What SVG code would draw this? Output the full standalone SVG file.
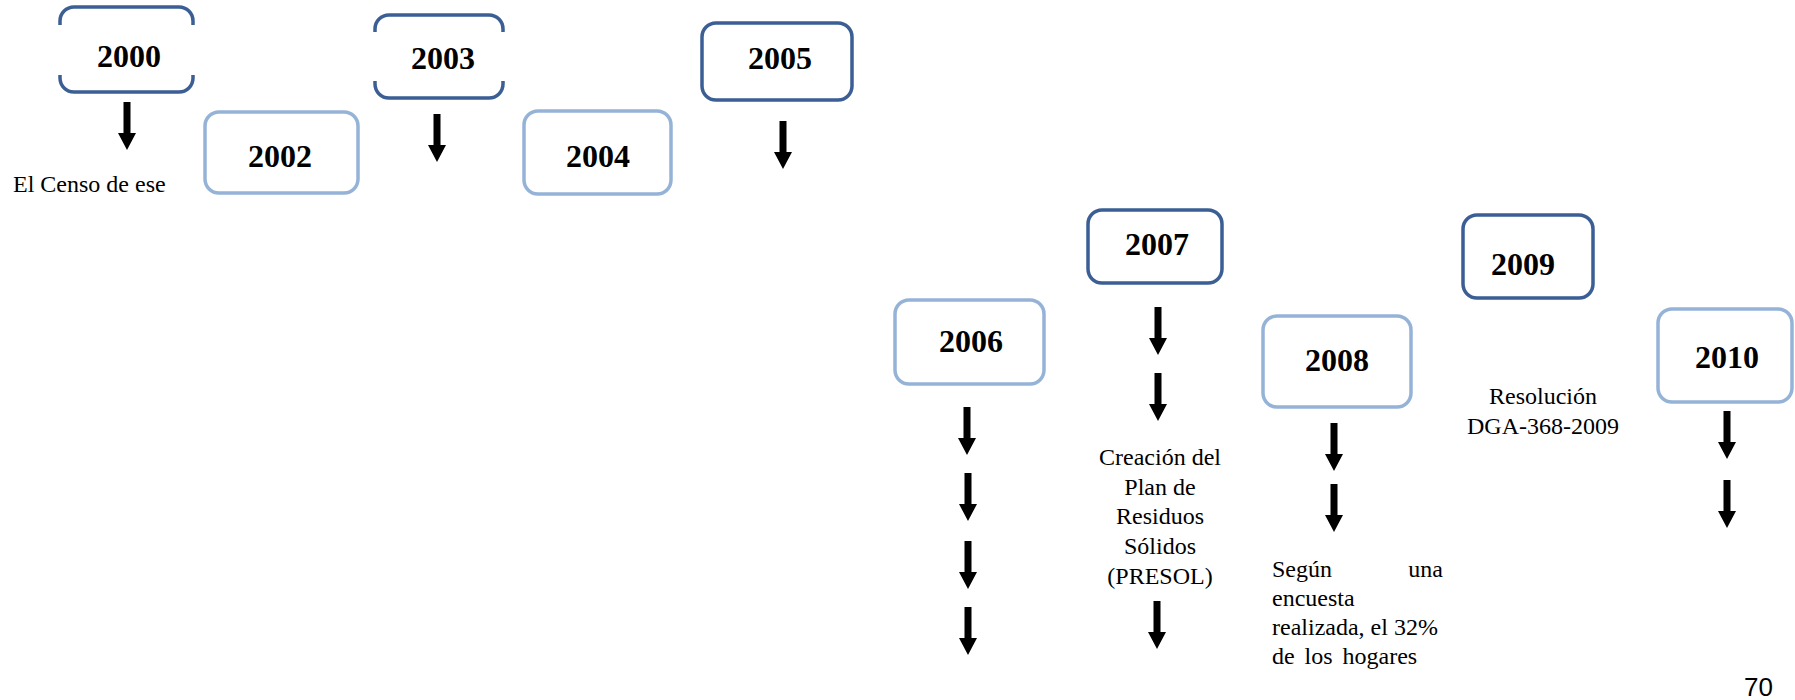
<svg xmlns="http://www.w3.org/2000/svg" xmlns:xlink="http://www.w3.org/1999/xlink" width="1795" height="700" viewBox="0 0 1795 700">
<style>
.dark{fill:none;stroke:#3B5F94;stroke-width:3.5}
.light{fill:none;stroke:#95B3D7;stroke-width:3.5}
.yr{font-family:"Liberation Serif","Times New Roman",serif;font-weight:bold;font-size:32px;fill:#000;text-anchor:middle}
.tx{font-family:"Liberation Serif","Times New Roman",serif;font-size:24px;fill:#000}
.mid{text-anchor:middle}
.pg{font-family:"Liberation Sans",Arial,sans-serif;font-size:26px;fill:#000}
</style>
<defs>
<path id="arr" d="M-3.5,0 H3.5 V31 H9 L0,48 L-9,31 H-3.5 Z" fill="#000"/>
</defs>
<rect width="1795" height="700" fill="#fff"/>

<g id="n2000">
<path class="dark" d="M60,25 V21 A14,14 0 0 1 74,7 H179 A14,14 0 0 1 193,21 V25"/>
<path class="dark" d="M60,75 V78 A14,14 0 0 0 74,92 H179 A14,14 0 0 0 193,78 V75"/>
<text class="yr" x="129" y="67">2000</text>
</g>
<g id="t2000"><text class="tx" x="13" y="192">El Censo de ese</text></g>

<g id="n2002">
<rect class="light" x="205" y="112" width="153" height="81" rx="14"/>
<text class="yr" x="280" y="167">2002</text>
</g>

<g id="n2003">
<path class="dark" d="M375,32 V29 A14,14 0 0 1 389,15 H489 A14,14 0 0 1 503,29 V32"/>
<path class="dark" d="M375,81 V84 A14,14 0 0 0 389,98 H489 A14,14 0 0 0 503,84 V81"/>
<text class="yr" x="443" y="69">2003</text>
</g>

<g id="n2004">
<rect class="light" x="524" y="111" width="147" height="83" rx="14"/>
<text class="yr" x="598" y="167">2004</text>
</g>

<g id="n2005">
<rect class="dark" x="702" y="23" width="150" height="77" rx="14"/>
<text class="yr" x="780" y="69">2005</text>
</g>

<g id="n2006">
<rect class="light" x="895" y="300" width="149" height="84" rx="14"/>
<text class="yr" x="971" y="352">2006</text>
</g>

<g id="n2007">
<rect class="dark" x="1088" y="210" width="134" height="73" rx="14"/>
<text class="yr" x="1157" y="255">2007</text>
</g>
<g id="t2007">
<text class="tx mid" x="1160" y="465">Creación del</text>
<text class="tx mid" x="1160" y="495">Plan de</text>
<text class="tx mid" x="1160" y="524">Residuos</text>
<text class="tx mid" x="1160" y="554">Sólidos</text>
<text class="tx mid" x="1160" y="584">(PRESOL)</text>
</g>

<g id="n2008">
<rect class="light" x="1263" y="316" width="148" height="91" rx="14"/>
<text class="yr" x="1337" y="371">2008</text>
</g>
<g id="t2008">
<text class="tx" x="1272" y="577">Según</text>
<text class="tx" x="1443" y="577" text-anchor="end">una</text>
<text class="tx" x="1272" y="606">encuesta</text>
<text class="tx" x="1272" y="635">realizada, el 32%</text>
<text class="tx" y="664"><tspan x="1272">de</tspan><tspan x="1304.5">los</tspan><tspan x="1342.5">hogares</tspan></text>
</g>

<g id="n2009">
<rect class="dark" x="1463" y="215" width="130" height="83" rx="14"/>
<text class="yr" x="1523" y="275">2009</text>
</g>
<g id="t2009">
<text class="tx mid" x="1543" y="404">Resolución</text>
<text class="tx mid" x="1543" y="434">DGA-368-2009</text>
</g>

<g id="n2010">
<rect class="light" x="1658" y="309" width="134" height="93" rx="14"/>
<text class="yr" x="1727" y="368">2010</text>
</g>

<g id="connectors">
<use xlink:href="#arr" x="127" y="102"/>
<use xlink:href="#arr" x="437" y="114"/>
<use xlink:href="#arr" x="783" y="121"/>
<use xlink:href="#arr" x="967" y="407"/>
<use xlink:href="#arr" x="968" y="473"/>
<use xlink:href="#arr" x="968" y="541"/>
<use xlink:href="#arr" x="968" y="607"/>
<use xlink:href="#arr" x="1158" y="307"/>
<use xlink:href="#arr" x="1158" y="373"/>
<use xlink:href="#arr" x="1157" y="601"/>
<use xlink:href="#arr" x="1334" y="423"/>
<use xlink:href="#arr" x="1334" y="484"/>
<use xlink:href="#arr" x="1727" y="411"/>
<use xlink:href="#arr" x="1727" y="480"/>
</g>

<text class="pg" x="1744" y="696">70</text>
</svg>
